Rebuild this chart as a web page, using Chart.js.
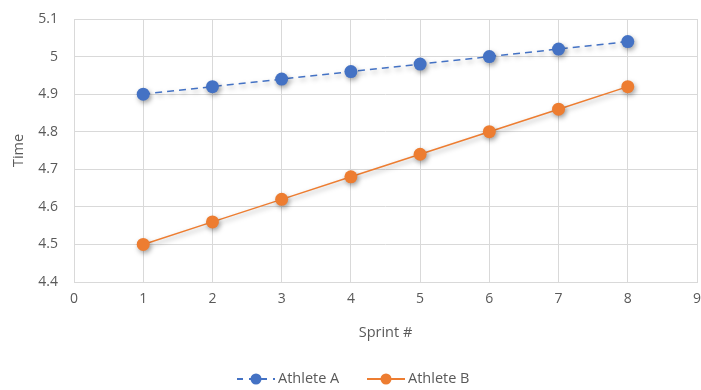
<!DOCTYPE html>
<html>
<head>
<meta charset="utf-8">
<script src="https://cdn.jsdelivr.net/npm/chart.js@4"></script>
<style>
  html, body { margin: 0; padding: 0; background: #fff; }
  #wrap { width: 701px; height: 390px; }
</style>
</head>
<body>
<div id="wrap"><canvas id="myChart" width="701" height="390"></canvas></div>
<script>
const sprints = [1, 2, 3, 4, 5, 6, 7, 8];
const athleteA = [4.9, 4.92, 4.94, 4.96, 4.98, 5.0, 5.02, 5.04];
const athleteB = [4.5, 4.56, 4.62, 4.68, 4.74, 4.8, 4.86, 4.92];
const seriesNames = ["Athlete A", "Athlete B"];

const blue = "#4472C4";
const orange = "#ED7D31";
const textColor = "#595959";
const fontFamily = "'Open Sans', 'Liberation Sans', sans-serif";

const toPoints = (ys) => sprints.map((x, i) => ({ x: x, y: ys[i] }));

// soft shadow under lines and markers, like the office chart style
const shadowPlugin = {
  id: "shadow",
  beforeDatasetDraw(chart) {
    const ctx = chart.ctx;
    ctx.save();
    ctx.shadowColor = "rgba(0,0,0,0.35)";
    ctx.shadowBlur = 5;
    ctx.shadowOffsetX = 1.5;
    ctx.shadowOffsetY = 2.5;
  },
  afterDatasetDraw(chart) {
    chart.ctx.restore();
  },
};

// legend with line + marker, drawn at the bottom
const lineLegend = {
  id: "lineLegend",
  afterDraw(chart) {
    const ctx = chart.ctx;
    const y = 379;
    const items = [
      { x: 237, color: blue, dash: [6, 6], label: seriesNames[0] },
      { x: 367, color: orange, dash: [], label: seriesNames[1] },
    ];
    ctx.save();
    items.forEach((it) => {
      ctx.strokeStyle = it.color;
      ctx.lineWidth = 2;
      ctx.setLineDash(it.dash);
      ctx.beginPath();
      ctx.moveTo(it.x, y);
      ctx.lineTo(it.x + 38, y);
      ctx.stroke();
      ctx.setLineDash([]);
      ctx.fillStyle = it.color;
      ctx.beginPath();
      ctx.arc(it.x + 19, y, 5.5, 0, Math.PI * 2);
      ctx.fill();
      ctx.fillStyle = textColor;
      ctx.font = "14.5px " + fontFamily;
      ctx.textBaseline = "middle";
      ctx.textAlign = "left";
      ctx.fillText(it.label, it.x + 41, y);
    });
    ctx.restore();
  },
};

const data = {
  datasets: [
    {
      label: seriesNames[0],
      data: toPoints(athleteA),
      borderColor: blue,
      backgroundColor: blue,
      borderWidth: 1.5,
      borderDash: [7, 5],
      pointRadius: 6.5,
      pointHoverRadius: 6.5,
      pointBorderWidth: 0,
      showLine: true,
    },
    {
      label: seriesNames[1],
      data: toPoints(athleteB),
      borderColor: orange,
      backgroundColor: orange,
      borderWidth: 1.5,
      pointRadius: 6.5,
      pointHoverRadius: 6.5,
      pointBorderWidth: 0,
      showLine: true,
    },
  ],
};

const config = {
  type: "scatter",
  data: data,
  plugins: [shadowPlugin, lineLegend],
  options: {
    responsive: false,
    animation: false,
    layout: { autoPadding: false, padding: { left: 10, right: 4, top: 19, bottom: 44 } },
    plugins: {
      legend: { display: false },
      tooltip: { enabled: false },
    },
    scales: {
      x: {
        type: "linear",
        min: 0,
        max: 9,
        ticks: {
          stepSize: 1,
          color: textColor,
          font: { family: fontFamily, size: 14 },
          padding: 9,
        },
        grid: { color: "#d9d9d9", lineWidth: 1, drawTicks: false },
        border: { color: "#d9d9d9" },
        title: {
          display: true,
          text: "Sprint #",
          color: textColor,
          font: { family: fontFamily, size: 14.5 },
          padding: { top: 10, bottom: 4 },
        },
        afterFit(scale) {
          scale.height = 64;
          scale.paddingRight = 0;
          scale.paddingLeft = 0;
        },
      },
      y: {
        min: 4.4,
        max: 5.1,
        ticks: {
          stepSize: 0.1,
          color: textColor,
          font: { family: fontFamily, size: 14 },
          padding: 16,
          callback: (v) => Math.round(v * 10) / 10,
        },
        grid: { color: "#d9d9d9", lineWidth: 1, drawTicks: false },
        border: { display: false },
        title: {
          display: true,
          text: "Time",
          color: textColor,
          font: { family: fontFamily, size: 14.5 },
          padding: 0,
        },
        afterFit(scale) {
          scale.width = 64;
          scale.paddingTop = 0;
          scale.paddingBottom = 0;
        },
      },
    },
  },
};

const myChart = new Chart(document.getElementById("myChart"), config);
</script>
</body>
</html>
